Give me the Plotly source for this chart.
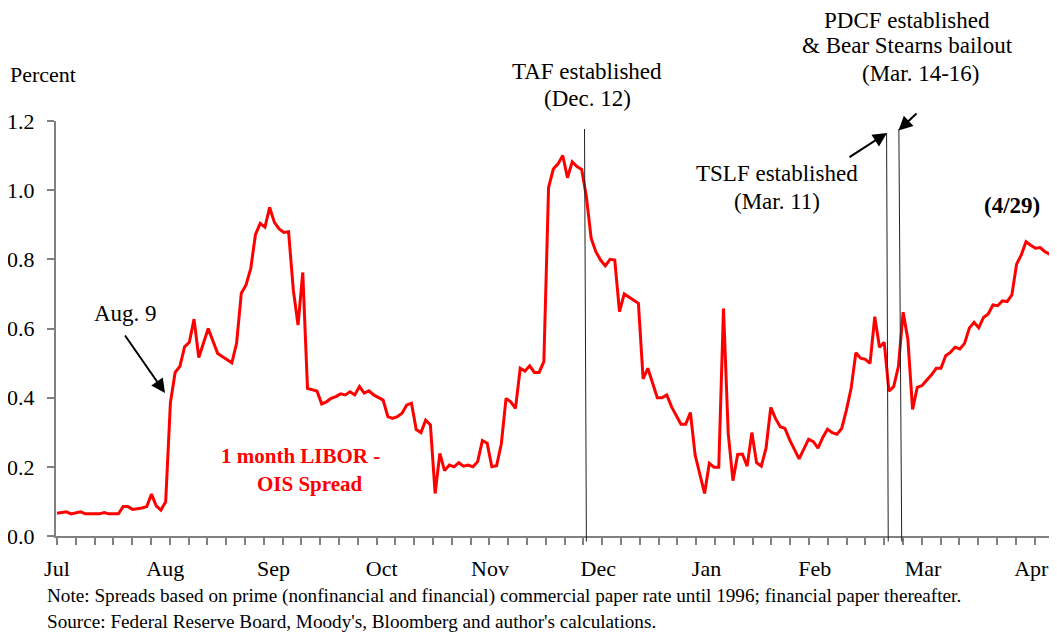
import plotly.graph_objects as go

# ---- data: business-day index and 1-month LIBOR-OIS spread (percent) ----
day_index = [0, 2, 3, 5, 6, 9, 10, 11, 13, 14, 15, 16, 18, 19, 20, 21, 22, 23, 24, 25,
             26, 27, 28, 29, 30, 32, 34, 37, 38, 39, 40, 41, 42, 43, 44, 45, 46, 47, 48, 49,
             50, 51, 52, 53, 55, 56, 57, 58, 59, 60, 61, 62, 63, 64, 65, 66, 67, 69, 70, 71,
             72, 73, 74, 75, 76, 77, 78, 79, 80, 81, 82, 83, 84, 85, 86, 87, 88, 89, 90, 91,
             92, 93, 94, 95, 96, 97, 98, 99, 100, 101, 102, 103, 104, 105, 106, 107, 108, 109, 110, 111,
             112, 113, 114, 115, 116, 117, 118, 119, 120, 123, 124, 125, 127, 128, 129, 130, 132, 133, 134, 135,
             137, 138, 139, 140, 141, 142, 143, 144, 145, 146, 147, 148, 149, 150, 151, 152, 153, 154, 155, 157,
             159, 160, 161, 162, 163, 164, 165, 166, 167, 168, 169, 170, 171, 172, 173, 174, 175, 176, 177, 178,
             179, 180, 181, 182, 183, 184, 185, 186, 187, 188, 189, 190, 191, 192, 193, 194, 195, 196, 197, 198,
             199, 200, 201, 202, 203, 204, 205, 206, 207, 208, 209, 210, 211]
spread = [0.066, 0.070, 0.064, 0.070, 0.064, 0.064, 0.068, 0.064, 0.064, 0.085, 0.085, 0.077, 0.081, 0.085, 0.121, 0.087, 0.075, 0.099, 0.385, 0.473,
          0.490, 0.547, 0.560, 0.627, 0.516, 0.600, 0.528, 0.501, 0.557, 0.702, 0.726, 0.774, 0.872, 0.904, 0.893, 0.950, 0.907, 0.888, 0.878, 0.880,
          0.711, 0.610, 0.762, 0.427, 0.419, 0.382, 0.388, 0.398, 0.403, 0.411, 0.408, 0.417, 0.408, 0.432, 0.413, 0.420, 0.408, 0.393, 0.345, 0.340,
          0.345, 0.355, 0.379, 0.384, 0.308, 0.299, 0.335, 0.321, 0.123, 0.239, 0.189, 0.205, 0.200, 0.212, 0.202, 0.205, 0.200, 0.215, 0.276, 0.268,
          0.200, 0.203, 0.266, 0.398, 0.388, 0.369, 0.485, 0.477, 0.492, 0.473, 0.473, 0.504, 1.008, 1.061, 1.076, 1.100, 1.036, 1.082, 1.068, 1.060,
          0.981, 0.861, 0.822, 0.798, 0.781, 0.800, 0.798, 0.649, 0.700, 0.673, 0.454, 0.485, 0.400, 0.400, 0.408, 0.374, 0.323, 0.323, 0.357, 0.234,
          0.123, 0.210, 0.199, 0.199, 0.658, 0.297, 0.160, 0.236, 0.237, 0.202, 0.299, 0.212, 0.202, 0.254, 0.372, 0.340, 0.316, 0.311, 0.278, 0.223,
          0.280, 0.273, 0.254, 0.285, 0.309, 0.299, 0.294, 0.311, 0.364, 0.427, 0.530, 0.514, 0.511, 0.499, 0.634, 0.546, 0.560, 0.419, 0.432, 0.490,
          0.647, 0.569, 0.366, 0.430, 0.435, 0.449, 0.466, 0.485, 0.485, 0.521, 0.531, 0.546, 0.541, 0.557, 0.601, 0.618, 0.602, 0.632, 0.642, 0.668,
          0.666, 0.680, 0.678, 0.697, 0.786, 0.813, 0.851, 0.841, 0.832, 0.834, 0.822, 0.815, 0.782]

month_labels = ['Jul', 'Aug', 'Sep', 'Oct', 'Nov', 'Dec', 'Jan', 'Feb', 'Mar', 'Apr']
month_pos = [0, 22.9, 45.8, 68.7, 91.6, 114.5, 137.4, 160.3, 183.2, 206.1]
y_ticks = [0.0, 0.2, 0.4, 0.6, 0.8, 1.0, 1.2]

# event lines (business-day index at top and bottom of the line)
events = {'TAF': (111.6, 112.0), 'TSLF': (175.5, 175.85), 'PDCF': (178.1, 178.7)}

# ---- layout geometry ----
# the page has an 8px body margin, so the figure is drawn 8px in from the window corner
OFF = 8
W, H = 1057 - OFF, 634 - OFF
# plot-area edges in window pixels
L, T, R, B = 56, 121, 1057, 536
FONT = 'Liberation Serif'


def px(x):
    return (x - L) / (R - L)


def py(y):
    return (B - y) / (B - T)


fig = go.Figure()
fig.add_trace(go.Scatter(x=day_index, y=spread, mode='lines',
                         line=dict(color='#FF0000', width=3), hoverinfo='skip'))

shapes = []
for name, (x_top, x_bot) in events.items():
    shapes.append(dict(type='line', xref='x', yref='paper', x0=x_top, x1=x_bot,
                       y0=py(129 if name != 'TSLF' else 133), y1=py(541.5),
                       line=dict(color='#222222', width=1)))

annotations = []


def text(t, x, y, size=23, color='black', xanchor='center'):
    annotations.append(dict(text=t, xref='paper', yref='paper', x=px(x), y=py(y),
                            xanchor=xanchor, yanchor='middle', showarrow=False,
                            font=dict(family=FONT, size=size, color=color)))


def arrow(hx, hy, tx, ty):
    annotations.append(dict(text='', xref='paper', yref='paper', x=px(hx), y=py(hy),
                            ax=tx - hx, ay=ty - hy, axref='pixel', ayref='pixel',
                            showarrow=True, arrowhead=2, arrowsize=1.4, arrowwidth=2,
                            arrowcolor='black', standoff=0, startstandoff=0))


text('Percent', 8, 75, size=22, xanchor='left')
text('TAF established', 587, 71)
text('(Dec. 12)', 587, 99)
text('PDCF established', 907, 20)
text('&amp; Bear Stearns bailout', 907, 46)
text('(Mar. 14-16)', 921, 73)
text('TSLF established', 777, 174)
text('(Mar. 11)', 777, 201)
text('Aug. 9', 125, 313)
text('<b>(4/29)</b>', 1012, 205)
text('<b>1 month LIBOR -</b>', 300, 456, size=21, color='#FF0000')
text('<b>OIS Spread</b>', 310, 484, size=21, color='#FF0000')
text('Note: Spreads based on prime (nonfinancial and financial) commercial paper rate until 1996; financial paper thereafter.',
     45, 596, size=19.2, xanchor='left')
text("Source: Federal Reserve Board, Moody's, Bloomberg and author's calculations.",
     45, 621, size=19.2, xanchor='left')

arrow(165, 393, 124, 334)
arrow(887, 133, 848, 158)
arrow(898.5, 130.5, 918, 112)

fig.update_layout(
    width=W, height=H,
    margin=dict(l=L - OFF, r=1057 - R, t=T - OFF, b=634 - B, pad=0),
    paper_bgcolor='white', plot_bgcolor='white',
    showlegend=False,
    font=dict(family=FONT, color='black', size=22),
    shapes=shapes, annotations=annotations,
    xaxis=dict(range=[-0.2, 211.55], tickmode='array', tickvals=month_pos, ticktext=month_labels,
               ticks='', ticklabelstandoff=12, tickfont=dict(size=22, family=FONT, color='black'),
               showline=True, linecolor='#808080', linewidth=2, showgrid=False, zeroline=False,
               automargin=False,
               minor=dict(tickmode='linear', tick0=0, dtick=3.977, ticks='outside', ticklen=7,
                          tickcolor='#808080', tickwidth=1.5, showgrid=False)),
    yaxis=dict(range=[0, 1.2], tickmode='array', tickvals=y_ticks, tickformat='.1f',
               ticks='outside', ticklen=7, tickcolor='#808080', tickwidth=1.5,
               ticklabelstandoff=8, tickfont=dict(size=22, family=FONT, color='black'),
               showline=True, linecolor='#808080', linewidth=2, showgrid=False, zeroline=False,
               automargin=False),
)

fig.write_html('out.html')
